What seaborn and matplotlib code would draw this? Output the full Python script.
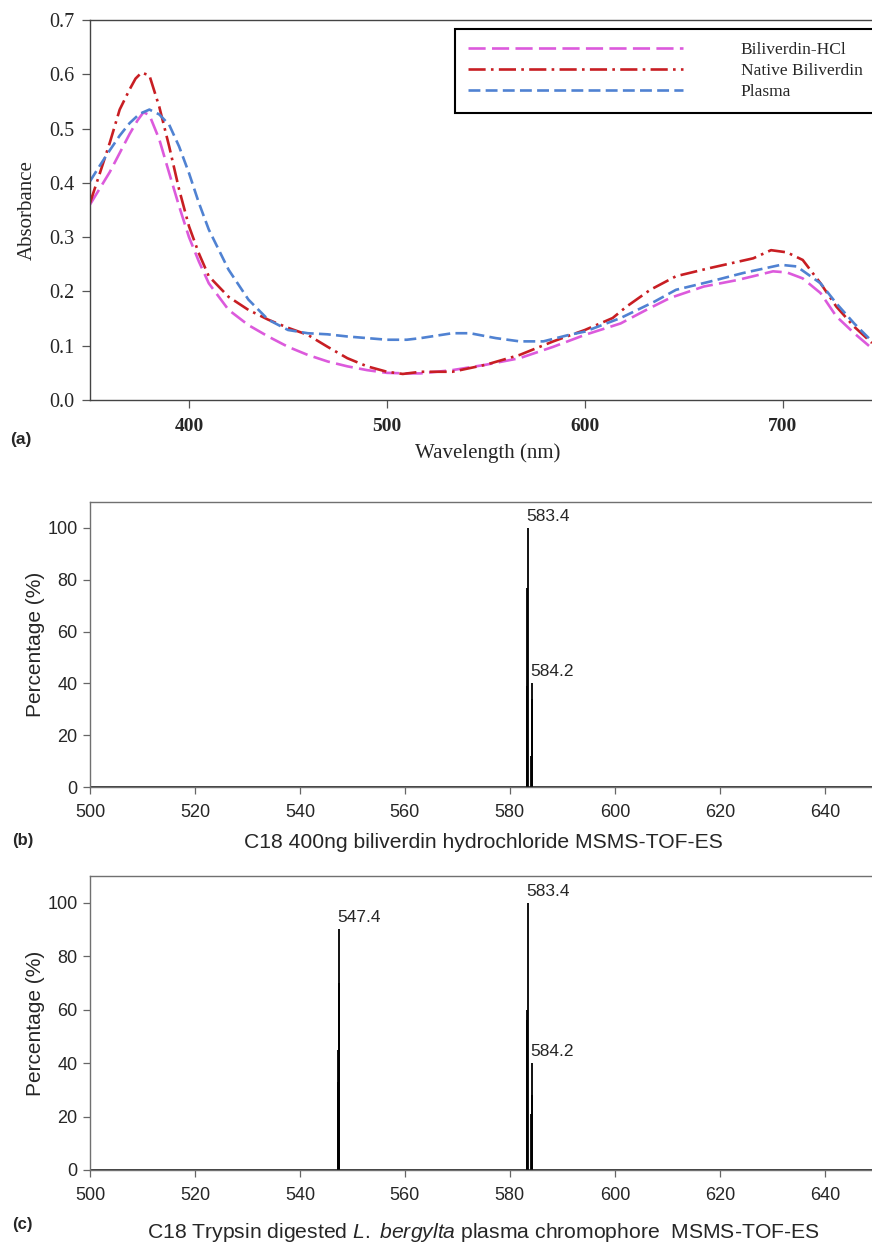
import numpy as np
import pandas as pd
import matplotlib
matplotlib.use("Agg")
import matplotlib.pyplot as plt
import seaborn as sns

sns.set_style("white")
plt.rcParams["mathtext.fontset"] = "custom"
plt.rcParams["mathtext.rm"] = "Liberation Sans"
plt.rcParams["mathtext.it"] = "Liberation Sans:italic"

# ---------------- (a) UV-Vis absorbance spectra ----------------
hcl_nm = [350, 355, 360, 365, 370, 374, 377, 380, 385, 390, 395, 400, 405, 410,
          420, 430, 440, 450, 460, 470, 480, 490, 500, 510, 517, 533, 550, 567,
          584, 600, 618, 631, 643, 660, 677, 685, 695, 702, 710, 719, 727, 736, 745]
hcl_abs = [0.360, 0.390, 0.420, 0.455, 0.490, 0.515, 0.530, 0.525, 0.480, 0.418,
           0.357, 0.300, 0.255, 0.215, 0.166, 0.138, 0.117, 0.098, 0.083, 0.071,
           0.062, 0.055, 0.050, 0.049, 0.049, 0.055, 0.065, 0.077, 0.098, 0.120,
           0.141, 0.166, 0.188, 0.209, 0.221, 0.228, 0.237, 0.235, 0.224, 0.197,
           0.154, 0.123, 0.095]

native_nm = [350, 355, 360, 365, 370, 373, 376, 380, 385, 390, 395, 400, 405,
             410, 420, 430, 440, 450, 460, 470, 480, 490, 500, 508, 517, 533,
             550, 567, 584, 600, 614, 621, 633, 646, 663, 685, 694, 702, 710,
             719, 727, 736, 745]
native_abs = [0.363, 0.418, 0.474, 0.535, 0.572, 0.592, 0.603, 0.598, 0.540,
              0.467, 0.388, 0.320, 0.270, 0.228, 0.190, 0.166, 0.148, 0.133,
              0.120, 0.098, 0.077, 0.062, 0.052, 0.048, 0.052, 0.052, 0.065,
              0.083, 0.108, 0.129, 0.151, 0.172, 0.203, 0.228, 0.243, 0.261,
              0.276, 0.272, 0.258, 0.215, 0.172, 0.135, 0.105]

plasma_nm = [350, 355, 360, 365, 370, 375, 380, 385, 390, 395, 400, 405, 410,
             420, 430, 440, 450, 460, 470, 480, 500, 510, 517, 533, 542, 555,
             567, 579, 592, 600, 618, 635, 646, 663, 680, 699, 707, 719, 727,
             736, 745]
plasma_abs = [0.403, 0.432, 0.460, 0.487, 0.510, 0.527, 0.535, 0.526, 0.507,
              0.467, 0.418, 0.363, 0.314, 0.240, 0.185, 0.148, 0.129, 0.123,
              0.121, 0.117, 0.111, 0.111, 0.114, 0.123, 0.123, 0.114, 0.108,
              0.108, 0.120, 0.126, 0.151, 0.181, 0.203, 0.218, 0.234, 0.249,
              0.246, 0.215, 0.178, 0.141, 0.108]

series_names = ["Biliverdin-HCl", "Native Biliverdin", "Plasma"]

# ---------------- (b) MS/MS of biliverdin hydrochloride ----------------
b_mz = [583.2, 583.3, 583.4, 584.1, 584.2, 584.3]
b_int = [39, 77, 100, 12, 40, 34]
b_labels = [(583.4, 100, "583.4"), (584.2, 40, "584.2")]

# ---------------- (c) MS/MS of plasma chromophore ----------------
c_mz = [547.25, 547.3, 547.35, 547.4, 583.2, 583.3, 583.4, 584.1, 584.2, 584.3]
c_int = [33, 45, 70, 90, 56, 60, 100, 21, 40, 28]
c_labels = [(547.4, 90, "547.4"), (583.4, 100, "583.4"), (584.2, 40, "584.2")]

ms_ticks = [500, 520, 540, 560, 580, 600, 620, 640]

SERIF = "Liberation Serif"
SANS = "Liberation Sans"

W, H = 872, 1245
fig = plt.figure(figsize=(W / 100, H / 100), dpi=100)


def frac_box(left, top, right, bottom):
    return [left / W, 1 - bottom / H, (right - left) / W, (bottom - top) / H]


# ---- panel (a) ----
ax_a = fig.add_axes(frac_box(90, 20, 872, 400))
df_a = pd.concat([
    pd.DataFrame({"nm": hcl_nm, "abs": hcl_abs, "sample": series_names[0]}),
    pd.DataFrame({"nm": native_nm, "abs": native_abs, "sample": series_names[1]}),
    pd.DataFrame({"nm": plasma_nm, "abs": plasma_abs, "sample": series_names[2]}),
])
palette = {series_names[0]: "#DC5ADC", series_names[1]: "#C81E23",
           series_names[2]: "#5082D2"}
dashes = {series_names[0]: (6.5, 2.4), series_names[1]: (6.5, 2.0, 1.0, 2.0),
          series_names[2]: (4.5, 2.0)}
sns.lineplot(data=df_a, x="nm", y="abs", hue="sample", style="sample",
             palette=palette, dashes=dashes, linewidth=1.9, ax=ax_a,
             sort=False, legend=True)
ax_a.set_xlim(350, 745)
ax_a.set_ylim(0, 0.7)
ax_a.set_xticks([400, 500, 600, 700])
ax_a.set_yticks(np.arange(0, 0.71, 0.1))
ax_a.set_yticklabels([f"{v:.1f}" for v in np.arange(0, 0.71, 0.1)],
                     family=SERIF, fontsize=14.5)
ax_a.set_xticklabels(["400", "500", "600", "700"], family=SERIF,
                     fontsize=14, fontweight="bold")
ax_a.tick_params(axis="both", direction="out", length=6, width=0.9,
                 color="#555555", pad=5, left=True, bottom=True)
ax_a.tick_params(axis="x", pad=7)
for side in ["left", "bottom", "top"]:
    ax_a.spines[side].set_color("#444444")
    ax_a.spines[side].set_linewidth(1.0)
ax_a.spines["right"].set_visible(False)
ax_a.set_xlabel("Wavelength (nm)", family=SERIF, fontsize=15)
ax_a.set_ylabel("Absorbance", family=SERIF, fontsize=15)
ax_a.xaxis.set_label_coords(0.508, -0.115)
ax_a.yaxis.set_label_coords(-0.068, 0.5)
handles, labels = ax_a.get_legend_handles_labels()
leg = ax_a.legend(handles, labels, loc="upper left",
                  bbox_to_anchor=(455 / W, 1 - 29 / H),
                  bbox_transform=fig.transFigure, borderaxespad=0,
                  prop={"family": SERIF, "size": 12.5}, handlelength=12.4,
                  handletextpad=3.3, labelspacing=0.28, borderpad=0.75,
                  fancybox=False, frameon=True, framealpha=1)
leg.get_frame().set_edgecolor("black")
leg.get_frame().set_linewidth(1.5)
fig.text(10 / W, 1 - 440 / H, "(a)", family=SANS, fontsize=12.5,
         fontweight="bold", ha="left", va="center")


# ---- panels (b) and (c) ----
def stick_panel(box, mz, inten, labels, xlabel_text, label_y, tag, tag_y):
    ax = fig.add_axes(frac_box(*box))
    ax.vlines(mz, 0, inten, colors="black", linewidth=1.3)
    ax.axhline(0, color="black", linewidth=1.8)
    for x, y, s in labels:
        ax.annotate(s, (x, y), xytext=(-1, 3), textcoords="offset points",
                    family=SANS, fontsize=12.5, ha="left", va="bottom")
    ax.set_xlim(500, 649)
    ax.set_ylim(0, 110)
    ax.set_xticks(ms_ticks)
    ax.set_yticks([0, 20, 40, 60, 80, 100])
    ax.set_xticklabels([str(t) for t in ms_ticks], family=SANS, fontsize=13)
    ax.set_yticklabels(["0", "20", "40", "60", "80", "100"], family=SANS,
                       fontsize=13)
    ax.tick_params(axis="both", direction="out", length=5, width=0.9,
                   color="#666666", left=True, bottom=True)
    ax.tick_params(axis="x", pad=7)
    ax.tick_params(axis="y", pad=4)
    for side in ["left", "bottom", "top"]:
        ax.spines[side].set_color("#707070")
        ax.spines[side].set_linewidth(1.0)
    ax.spines["right"].set_visible(False)
    ax.set_ylabel("Percentage (%)", family=SANS, fontsize=15)
    ax.yaxis.set_label_coords(-0.058, 0.5)
    ax.set_xlabel("")
    fig.text(483 / W, 1 - label_y / H, xlabel_text, family=SANS,
             fontsize=15.2, ha="center", va="center")
    fig.text(12 / W, 1 - tag_y / H, tag, family=SANS, fontsize=12,
             fontweight="bold", ha="left", va="center")
    return ax


stick_panel((90, 502, 872, 787), b_mz, b_int, b_labels,
            "C18 400ng biliverdin hydrochloride MSMS-TOF-ES", 842, "(b)", 840)
stick_panel((90, 876, 872, 1170), c_mz, c_int, c_labels,
            r"C18 Trypsin digested $\mathit{L.\ bergylta}$ plasma chromophore  MSMS-TOF-ES",
            1232, "(c)", 1225)

fig.savefig("out.png", dpi=100)
